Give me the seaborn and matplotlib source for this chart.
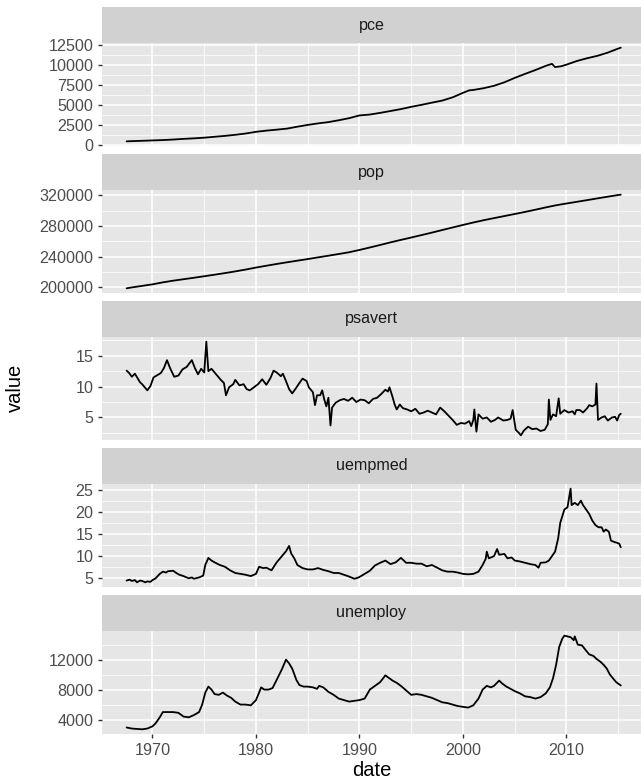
import pandas as pd
import seaborn as sns
import matplotlib.pyplot as plt
from matplotlib.patches import Rectangle
from matplotlib.ticker import MultipleLocator, AutoMinorLocator, StrMethodFormatter

# values (decimal year, value)
pce_pts = [(1967.5, 507), (1968.0, 531), (1969.0, 575), (1970.0, 620), (1971.0, 665),
           (1972.0, 730), (1973.0, 812), (1974.0, 878), (1975.0, 960), (1976.0, 1075),
           (1977.0, 1185), (1978.0, 1320), (1979.0, 1480), (1980.0, 1690), (1981.0, 1840),
           (1982.0, 1960), (1983.0, 2090), (1984.0, 2330), (1985.0, 2550), (1986.0, 2740),
           (1987.0, 2900), (1988.0, 3130), (1989.0, 3390), (1990.0, 3730), (1991.0, 3840),
           (1992.0, 4050), (1993.0, 4280), (1994.0, 4520), (1995.0, 4800), (1996.0, 5050),
           (1997.0, 5320), (1998.0, 5580), (1999.0, 5980), (2000.0, 6540), (2000.6, 6850),
           (2001.0, 6900), (2002.0, 7120), (2003.0, 7420), (2004.0, 7850), (2005.0, 8400),
           (2006.0, 8900), (2007.0, 9380), (2008.0, 9900), (2008.6, 10150), (2008.9, 9750),
           (2009.5, 9850), (2010.0, 10050), (2011.0, 10500), (2012.0, 10850), (2013.0, 11150),
           (2014.0, 11550), (2015.0, 12050), (2015.25, 12160)]

pop_pts = [(1967.5, 198712), (1968.0, 199900), (1969.0, 201900), (1970.0, 203900),
           (1971.0, 206500), (1972.0, 208700), (1973.0, 210600), (1974.0, 212500),
           (1975.0, 214500), (1976.0, 216500), (1977.0, 218600), (1978.0, 220800),
           (1979.0, 223200), (1980.0, 225800), (1981.0, 228200), (1982.0, 230500),
           (1983.0, 232700), (1984.0, 234800), (1985.0, 236900), (1986.0, 239100),
           (1987.0, 241300), (1988.0, 243500), (1989.0, 245800), (1990.0, 248800),
           (1991.0, 252000), (1992.0, 255300), (1993.0, 258700), (1994.0, 261900),
           (1995.0, 265000), (1996.0, 268200), (1997.0, 271400), (1998.0, 274800),
           (1999.0, 278100), (2000.0, 281400), (2001.0, 284600), (2002.0, 287600),
           (2003.0, 290300), (2004.0, 293000), (2005.0, 295700), (2006.0, 298400),
           (2007.0, 301300), (2008.0, 304300), (2009.0, 307100), (2010.0, 309400),
           (2011.0, 311600), (2012.0, 313800), (2013.0, 316100), (2014.0, 318300),
           (2015.0, 320500), (2015.25, 320900)]

psavert_pts = [(1967.5, 12.6), (1967.75, 12.2), (1968.0, 11.6), (1968.3, 12.1), (1968.8, 10.7),
               (1969.0, 10.4), (1969.5, 9.4), (1969.8, 10.1), (1970.1, 11.5), (1970.4, 11.8),
               (1970.8, 12.2), (1971.1, 13.0), (1971.4, 14.3), (1971.7, 13.0), (1972.1, 11.6),
               (1972.5, 11.8), (1972.9, 12.8), (1973.3, 13.2), (1973.8, 14.3), (1974.1, 13.0),
               (1974.4, 12.0), (1974.7, 12.9), (1975.0, 12.3), (1975.2, 17.3), (1975.4, 12.5),
               (1975.7, 12.9), (1976.2, 11.9), (1976.6, 11.1), (1976.9, 10.6), (1977.1, 8.6),
               (1977.4, 9.9), (1977.8, 10.4), (1978.0, 11.1), (1978.4, 10.2), (1978.8, 10.4),
               (1979.1, 9.6), (1979.4, 9.4), (1979.8, 9.9), (1980.2, 10.4), (1980.6, 11.2),
               (1981.0, 10.3), (1981.4, 11.4), (1981.7, 12.6), (1982.0, 12.3), (1982.4, 11.7),
               (1982.6, 12.1), (1982.9, 10.9), (1983.2, 9.6), (1983.5, 8.9), (1983.8, 9.6),
               (1984.2, 10.6), (1984.5, 11.3), (1984.9, 10.9), (1985.1, 9.9), (1985.5, 9.1),
               (1985.7, 7.0), (1985.9, 8.6), (1986.2, 8.6), (1986.4, 9.4), (1986.6, 7.9),
               (1986.8, 6.8), (1987.0, 8.2), (1987.2, 3.7), (1987.35, 6.6), (1987.7, 7.4),
               (1988.1, 7.8), (1988.5, 8.0), (1988.9, 7.7), (1989.3, 8.2), (1989.7, 7.5),
               (1990.1, 7.9), (1990.5, 7.8), (1990.9, 7.3), (1991.3, 8.0), (1991.7, 8.2),
               (1992.1, 8.8), (1992.5, 9.5), (1992.75, 9.2), (1992.9, 9.9), (1993.2, 8.3),
               (1993.4, 7.1), (1993.6, 6.3), (1993.9, 7.1), (1994.2, 6.5), (1994.6, 6.3),
               (1995.0, 6.0), (1995.4, 6.4), (1995.8, 5.6), (1996.2, 5.8), (1996.6, 6.1),
               (1997.0, 5.8), (1997.4, 5.5), (1997.8, 6.6), (1998.2, 6.0), (1998.6, 5.3),
               (1999.0, 4.6), (1999.4, 3.8), (1999.8, 4.1), (2000.2, 4.0), (2000.6, 4.4),
               (2000.8, 3.6), (2001.0, 4.6), (2001.1, 6.3), (2001.3, 2.7), (2001.5, 5.5),
               (2001.9, 4.8), (2002.3, 5.0), (2002.7, 4.3), (2003.1, 4.6), (2003.4, 5.0),
               (2003.9, 4.5), (2004.3, 4.6), (2004.6, 4.8), (2004.8, 6.2), (2005.1, 3.0),
               (2005.4, 2.5), (2005.6, 2.1), (2005.9, 2.9), (2006.3, 3.5), (2006.7, 3.1),
               (2007.1, 3.2), (2007.5, 2.8), (2007.9, 3.0), (2008.2, 3.9), (2008.3, 7.9),
               (2008.45, 4.6), (2008.7, 5.5), (2009.0, 5.2), (2009.25, 8.1), (2009.4, 5.6),
               (2009.8, 6.2), (2010.2, 5.8), (2010.6, 6.0), (2010.8, 5.5), (2010.95, 6.2),
               (2011.3, 6.2), (2011.6, 5.8), (2012.0, 6.5), (2012.2, 7.0), (2012.5, 6.8),
               (2012.8, 7.1), (2012.9, 10.5), (2013.05, 4.6), (2013.4, 5.0), (2013.7, 5.2),
               (2014.0, 4.5), (2014.4, 5.0), (2014.7, 5.1), (2014.9, 4.5), (2015.1, 5.4),
               (2015.25, 5.6)]

uempmed_pts = [(1967.5, 4.5), (1967.8, 4.7), (1968.0, 4.4), (1968.3, 4.6), (1968.5, 4.1),
               (1968.8, 4.5), (1969.0, 4.4), (1969.3, 4.1), (1969.5, 4.3), (1969.8, 4.2),
               (1970.0, 4.6), (1970.3, 5.0), (1970.7, 6.0), (1971.0, 6.5), (1971.3, 6.3),
               (1971.5, 6.6), (1972.0, 6.7), (1972.3, 6.2), (1972.6, 5.8), (1973.0, 5.5),
               (1973.5, 5.0), (1973.8, 5.2), (1974.0, 4.9), (1974.5, 5.2), (1974.9, 5.6),
               (1975.1, 8.0), (1975.4, 9.6), (1975.7, 9.0), (1976.0, 8.6), (1976.5, 8.0),
               (1977.0, 7.6), (1977.5, 6.8), (1978.0, 6.2), (1978.5, 6.0), (1979.0, 5.8),
               (1979.5, 5.5), (1980.0, 6.0), (1980.3, 7.6), (1980.7, 7.3), (1981.0, 7.4),
               (1981.5, 6.8), (1982.0, 8.6), (1982.5, 10.0), (1982.9, 11.1), (1983.2, 12.3),
               (1983.4, 10.6), (1983.7, 9.5), (1984.0, 8.0), (1984.5, 7.3), (1985.0, 7.0),
               (1985.5, 7.0), (1986.0, 7.3), (1986.5, 6.9), (1987.0, 6.6), (1987.5, 6.2),
               (1988.0, 6.2), (1988.5, 5.8), (1989.0, 5.4), (1989.5, 4.9), (1989.8, 5.1),
               (1990.0, 5.3), (1990.5, 6.0), (1991.0, 6.7), (1991.5, 7.9), (1992.0, 8.5),
               (1992.5, 9.0), (1993.0, 8.2), (1993.5, 8.6), (1994.0, 9.6), (1994.2, 9.2),
               (1994.5, 8.5), (1995.0, 8.5), (1995.5, 8.3), (1996.0, 8.3), (1996.5, 7.7),
               (1997.0, 8.0), (1997.5, 7.4), (1998.0, 6.8), (1998.5, 6.5), (1999.0, 6.5),
               (1999.5, 6.3), (2000.0, 6.0), (2000.5, 5.9), (2001.0, 6.0), (2001.5, 6.5),
               (2001.9, 8.0), (2002.2, 9.4), (2002.3, 11.0), (2002.5, 9.5), (2003.0, 10.0),
               (2003.3, 11.6), (2003.5, 10.3), (2004.0, 10.5), (2004.3, 9.5), (2004.7, 9.7),
               (2005.0, 9.0), (2005.5, 8.8), (2006.0, 8.5), (2006.5, 8.2), (2007.0, 8.0),
               (2007.3, 7.4), (2007.5, 8.5), (2008.0, 8.6), (2008.3, 9.0), (2008.6, 10.0),
               (2008.9, 11.0), (2009.2, 14.0), (2009.4, 17.5), (2009.6, 19.0), (2009.8, 20.5),
               (2010.1, 21.0), (2010.4, 25.2), (2010.5, 21.5), (2010.8, 22.0), (2011.1, 21.5),
               (2011.4, 22.5), (2011.6, 21.5), (2011.9, 20.5), (2012.2, 19.5), (2012.5, 18.0),
               (2012.8, 17.0), (2013.1, 16.5), (2013.4, 16.5), (2013.6, 15.5), (2013.8, 16.0),
               (2014.1, 15.5), (2014.3, 13.5), (2014.6, 13.2), (2014.9, 13.0), (2015.1, 12.8),
               (2015.25, 12.0)]

unemploy_pts = [(1967.5, 2944), (1968.0, 2800), (1968.5, 2750), (1969.0, 2700), (1969.5, 2800),
                (1970.0, 3100), (1970.3, 3500), (1970.7, 4300), (1971.0, 5000), (1971.5, 5000),
                (1972.0, 5000), (1972.5, 4900), (1973.0, 4400), (1973.5, 4300), (1974.0, 4600),
                (1974.5, 5000), (1974.8, 6000), (1975.1, 7600), (1975.4, 8400), (1975.7, 8000),
                (1976.0, 7400), (1976.4, 7300), (1976.8, 7600), (1977.2, 7200), (1977.6, 6900),
                (1978.0, 6400), (1978.5, 6000), (1979.0, 6000), (1979.5, 5900), (1980.0, 6600),
                (1980.3, 7600), (1980.5, 8300), (1980.8, 8000), (1981.2, 8000), (1981.6, 8200),
                (1982.0, 9300), (1982.5, 10700), (1982.9, 12000), (1983.2, 11500), (1983.5, 10800),
                (1983.9, 9300), (1984.2, 8600), (1984.6, 8400), (1985.0, 8400), (1985.5, 8300),
                (1985.9, 8100), (1986.1, 8500), (1986.5, 8300), (1987.0, 7700), (1987.5, 7300),
                (1988.0, 6800), (1988.5, 6600), (1989.0, 6400), (1989.5, 6500), (1990.0, 6600),
                (1990.5, 6800), (1991.0, 8000), (1991.5, 8500), (1992.0, 9000), (1992.5, 9900),
                (1992.8, 9600), (1993.2, 9200), (1993.6, 8900), (1994.0, 8500), (1994.5, 7900),
                (1995.0, 7300), (1995.5, 7400), (1996.0, 7300), (1996.5, 7100), (1997.0, 6900),
                (1997.5, 6600), (1998.0, 6300), (1998.5, 6200), (1999.0, 6000), (1999.5, 5800),
                (2000.0, 5700), (2000.5, 5600), (2001.0, 5900), (2001.5, 6800), (2001.9, 8000),
                (2002.3, 8500), (2002.7, 8300), (2003.0, 8500), (2003.5, 9200), (2003.8, 8800),
                (2004.2, 8400), (2004.6, 8100), (2005.0, 7800), (2005.5, 7500), (2006.0, 7100),
                (2006.5, 7000), (2007.0, 6800), (2007.5, 7000), (2008.0, 7500), (2008.4, 8300),
                (2008.7, 9500), (2009.0, 11300), (2009.3, 13700), (2009.6, 14800), (2009.8, 15200),
                (2010.1, 15100), (2010.4, 15000), (2010.7, 14600), (2010.8, 15100), (2011.1, 14000),
                (2011.5, 13900), (2011.9, 13200), (2012.2, 12700), (2012.6, 12500), (2012.9, 12100),
                (2013.3, 11700), (2013.6, 11300), (2013.9, 10800), (2014.2, 10000), (2014.5, 9500),
                (2014.8, 9000), (2015.1, 8700), (2015.25, 8550)]

variables = ["pce", "pop", "psavert", "uempmed", "unemploy"]
y_steps = [2500, 40000, 5, 5, 4000]

frames = []
for name, pts in zip(variables, [pce_pts, pop_pts, psavert_pts, uempmed_pts, unemploy_pts]):
    yrs, vals = zip(*pts)
    frames.append(pd.DataFrame({"date": yrs, "value": vals, "variable": name}))
df = pd.concat(frames, ignore_index=True)

sns.set_style("darkgrid", {"axes.facecolor": "#E6E6E6", "grid.color": "white"})
plt.rcParams["font.family"] = ["Liberation Sans", "DejaVu Sans"]

g = sns.relplot(data=df, x="date", y="value", row="variable", kind="line",
                color="black", linewidth=1.3, estimator=None,
                facet_kws=dict(sharey=False, sharex=True), height=1.5, aspect=4)
fig = g.figure
fig.set_size_inches(6.41, 7.82)
fig.set_dpi(100)
g.set_titles("")
g.set_axis_labels("", "")
fig.subplots_adjust(left=0.159, right=1.007, top=0.945, bottom=0.0614, hspace=0.427)

strip_h = 36 / 782
for i, (ax, name, step) in enumerate(zip(g.axes.flat, variables, y_steps)):
    ax.set_title("")
    ax.xaxis.set_major_locator(MultipleLocator(10))
    ax.xaxis.set_minor_locator(AutoMinorLocator(2))
    ax.yaxis.set_major_locator(MultipleLocator(step))
    ax.yaxis.set_minor_locator(AutoMinorLocator(2))
    ax.yaxis.set_major_formatter(StrMethodFormatter("{x:.0f}"))
    ax.grid(which="major", color="white", linewidth=1.1)
    ax.grid(which="minor", color="white", linewidth=0.55)
    ax.set_axisbelow(True)
    for s in ax.spines.values():
        s.set_visible(False)
    ax.tick_params(axis="y", which="major", left=True, length=3.2, width=1,
                   color="#333333", labelsize=11.6, labelcolor="#4D4D4D", pad=3)
    ax.tick_params(which="minor", length=0)
    if i < 4:
        ax.tick_params(axis="x", which="major", length=0, labelbottom=False)
    else:
        ax.tick_params(axis="x", which="major", bottom=True, length=3.2, width=1,
                       color="#333333", labelsize=11.6, labelcolor="#4D4D4D", pad=3)
    ax.set_xlabel("")
    ax.set_ylabel("")

    # ggplot style strip on top of each panel
    pos = ax.get_position()
    fig.add_artist(Rectangle((pos.x0, pos.y1), pos.width, strip_h,
                             transform=fig.transFigure, facecolor="#D1D1D1",
                             edgecolor="none"))
    fig.text((pos.x0 + min(pos.x1, 1.0)) / 2, pos.y1 + strip_h / 2, name,
             ha="center", va="center", fontsize=11.6, color="#1A1A1A")

fig.text(0.58, 1 - 771 / 782, "date", ha="center", va="center", fontsize=14.5, color="black")
fig.text(0.024, 1 - 388 / 782, "value", ha="center", va="center", rotation=90,
         fontsize=14.5, color="black")

fig.savefig("out.png", dpi=100)
